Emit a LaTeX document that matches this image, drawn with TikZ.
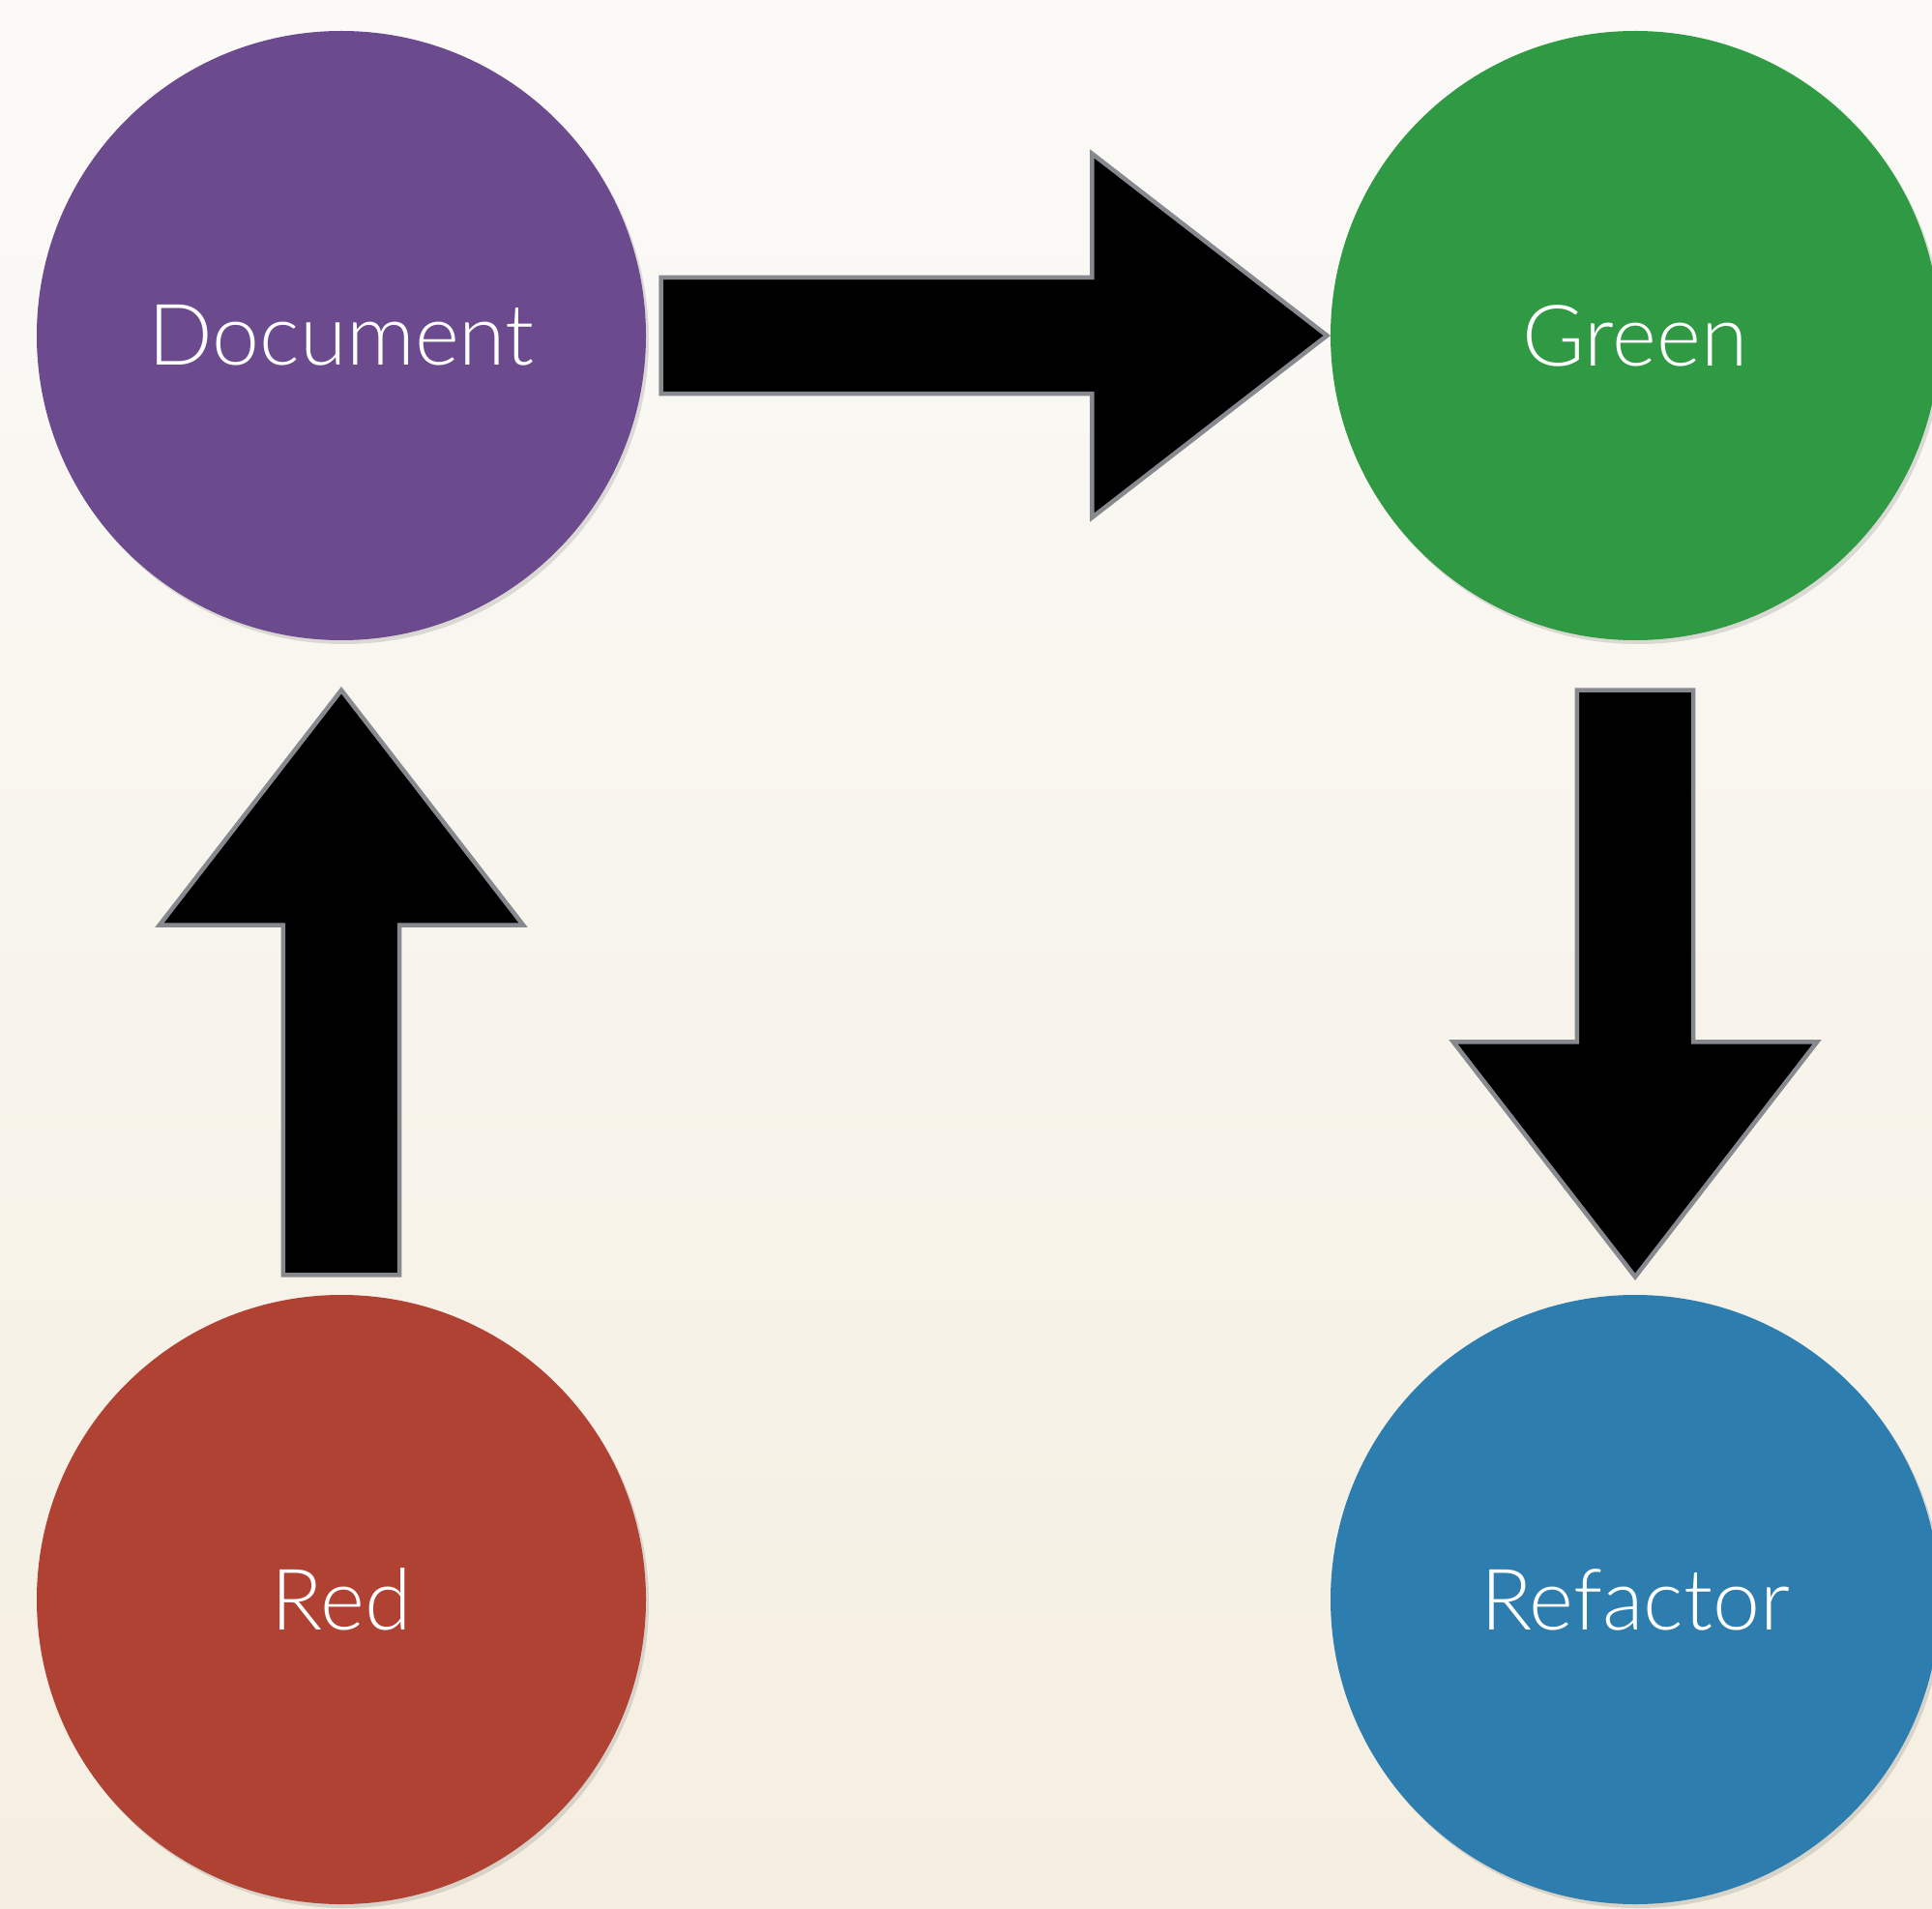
\documentclass[tikz,border=0pt]{standalone}
\usepackage{fontspec}
\setmainfont{Lato}[UprightFont={* Light}]
\usetikzlibrary{calc,shadows}
\definecolor{bgtop}{HTML}{FBFAF8}
\definecolor{bgbottom}{HTML}{F5EFE1}
\definecolor{docpurple}{HTML}{6B4A8D}
\definecolor{greengreen}{HTML}{2F9A43}
\definecolor{redred}{HTML}{B04233}
\definecolor{refblue}{HTML}{2E7DAF}
\definecolor{arrowgray}{HTML}{86898E}
\tikzset{
  phase/.style={circle, minimum size=6.3cm, inner sep=0pt, text=white,
    font=\fontsize{25}{30}\selectfont,
    drop shadow={opacity=0.25, shadow xshift=0.03cm, shadow yshift=-0.04cm}},
  blockarrow/.style={draw=arrowgray, fill=black, line width=1.3pt, line join=miter,
    to path={let \p1=($(\tikztotarget)-(\tikztostart)$),
      \n1={atan2(\y1,\x1)}, \n2={veclen(\x1,\y1)-69.1pt} in
      ($(\tikztostart)+(\n1+90:17.1pt)$)
      -- ($(\tikztostart)+(\n1:\n2)+(\n1+90:17.1pt)$)
      -- ($(\tikztostart)+(\n1:\n2)+(\n1+90:53.5pt)$)
      -- (\tikztotarget)
      -- ($(\tikztostart)+(\n1:\n2)+(\n1-90:53.5pt)$)
      -- ($(\tikztostart)+(\n1:\n2)+(\n1-90:17.1pt)$)
      -- ($(\tikztostart)+(\n1-90:17.1pt)$) -- cycle}}
}
\begin{document}
\begin{tikzpicture}
  \shade[top color=bgtop, bottom color=bgbottom] (0,0) rectangle (19.98,19.73);
  \useasboundingbox (0,0) rectangle (19.98,19.73);
  \node[phase, fill=docpurple] (doc) at (3.53,16.26) {Document};
  \node[phase, fill=greengreen] (green) at (16.91,16.26) {Green};
  \node[phase, fill=redred] (red) at (3.53,3.19) {Red};
  \node[phase, fill=refblue] (refactor) at (16.91,3.19) {Refactor};
  \draw[blockarrow] ($(doc.east)+(0.15,0)$) to ($(green.west)-(0.03,0)$);
  \draw[blockarrow] ($(green.south)-(0,0.51)$) to ($(refactor.north)+(0,0.18)$);
  \draw[blockarrow] ($(red.north)+(0,0.2)$) to ($(doc.south)-(0,0.51)$);
\end{tikzpicture}
\end{document}
